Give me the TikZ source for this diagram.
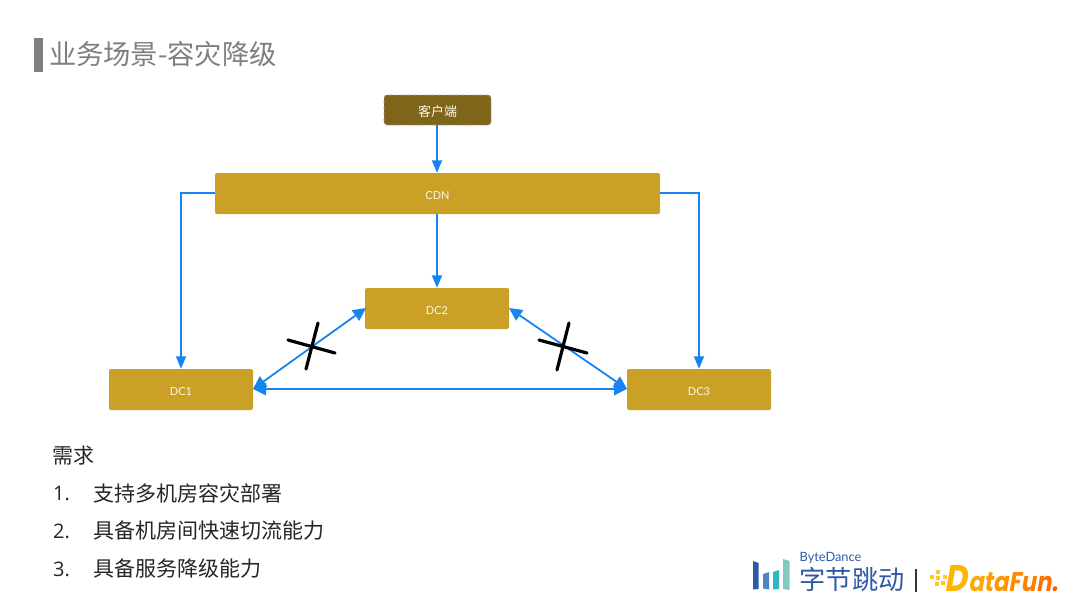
\documentclass[tikz,border=0pt]{standalone}
\usepackage{fontspec}
\setmainfont{Noto Sans CJK SC}
\newfontfamily\latinf{Open Sans}
\newfontfamily\lightf{Lato}
\newfontfamily\dataf[FakeSlant=0.18,FakeStretch=0.84]{Poppins}
\usetikzlibrary{arrows.meta}
\definecolor{gold}{HTML}{CAA026}
\definecolor{darkgold}{HTML}{7F6519}
\definecolor{link}{HTML}{1784F2}
\definecolor{titlegray}{HTML}{7F7F7F}
\definecolor{bdblue}{HTML}{2F5AA8}
\definecolor{bdmid}{HTML}{4A87C8}
\definecolor{bdteal}{HTML}{2EB8C0}
\definecolor{bdpale}{HTML}{84C8C4}
\definecolor{dfdot}{HTML}{FFC81E}
\tikzset{
 box/.style={fill=gold,rounded corners=2pt,text=white!92!gold,font=\fontsize{11}{12}\selectfont\lightf,inner sep=0pt,anchor=center,text height=12.8pt,text depth=0pt},
 clientbox/.style={box,fill=darkgold,draw=black!35,dashed,line width=.8pt,rounded corners=3pt,font=\fontsize{13}{15}\selectfont,text height=12.6pt},
 conn/.style={draw=link,line width=1.8pt,-{Triangle[length=12.5pt,width=10pt]}},
 bidir/.style={draw=link,line width=1.8pt,{Triangle[length=13pt,width=12.5pt]}-{Triangle[length=13pt,width=12.5pt]}},
 crossing/.style={draw=black,line width=3.2pt,line cap=round},
 body/.style={font=\fontsize{21}{25}\selectfont,text=black!85,anchor=west,inner sep=0pt},
 logotext/.style={inner sep=0pt,text=bdblue},
}
\begin{document}
\begin{tikzpicture}[x=1pt,y=-1pt]
\useasboundingbox (0,0) rectangle (1080,608);
\fill[white] (0,0) rectangle (1080,608);
% title
\fill[titlegray] (34,38) rectangle (43,72);
\node[body,text=titlegray,font=\fontsize{27.3}{30}\selectfont] (title) at (48.8,54.3) {业务场景-容灾降级};
% nodes
\node[clientbox,minimum width=107pt,minimum height=30pt] (client) at (437.5,110) {客户端};
\node[box,minimum width=445pt,minimum height=41pt] (cdn) at (437.5,193.5) {CDN};
\node[box,minimum width=144pt,minimum height=41pt] (dc2) at (437,308.5) {DC2};
\node[box,minimum width=144pt,minimum height=41pt] (dc1) at (181,389.5) {DC1};
\node[box,minimum width=144pt,minimum height=41pt] (dc3) at (699,389.5) {DC3};
% connector end points on whole pixels
\coordinate (cdnl) at (215,193);
\coordinate (cdnr) at (660,193);
\coordinate (dc1a) at (253,389);
\coordinate (dc2l) at (366,308);
\coordinate (dc2r) at (509,308);
\coordinate (dc3a) at (627,389);
% connectors
\draw[conn] (client.south -| dc2.north) -- (cdn.north -| dc2.north);
\draw[conn] (cdn.south -| dc2.north) -- (dc2.north);
\draw[conn] (cdnl) -| (dc1.north);
\draw[conn] (cdnr) -| (dc3.north);
\draw[bidir] (dc1a) -- (dc3a);
\draw[bidir] (dc1a) -- (dc2l);
\draw[bidir] (dc2r) -- (dc3a);
% crosses
\draw[crossing] (288,340) -- (335,353);
\draw[crossing] (318,323) -- (306,369);
\draw[crossing] (539,340) -- (587,353);
\draw[crossing] (569,323) -- (557,370);
% text
\node[body] (req) at (52,455.7) {需求};
\node[body,font=\fontsize{20}{25}\selectfont\latinf] (n1) at (53,493) {1.};
\node[body] (t1) at (93,493) {支持多机房容灾部署};
\node[body,font=\fontsize{20}{25}\selectfont\latinf] (n2) at (53,531) {2.};
\node[body] (t2) at (93,531) {具备机房间快速切流能力};
\node[body,font=\fontsize{20}{25}\selectfont\latinf] (n3) at (53,569) {3.};
\node[body] (t3) at (93,569) {具备服务降级能力};
% ByteDance logo
\fill[bdblue] (753,561) -- (758.5,563) -- (758.5,589) -- (753,589.5) -- cycle;
\fill[bdmid] (763,574) -- (769,572) -- (769,589.5) -- (763,588.5) -- cycle;
\fill[bdteal] (773,572) -- (779,570) -- (779,589) -- (773,589.5) -- cycle;
\fill[bdpale] (783,559) -- (789.5,561) -- (789.5,590) -- (783,589) -- cycle;
\node[logotext,font=\fontsize{12.8}{13}\selectfont\lightf] (bd) at (830.5,558) {ByteDance};
\node[logotext,font=\fontsize{26.2}{28}\selectfont,anchor=west] (zj) at (799.5,579.5) {字节跳动};
\fill[black!80] (915,568.5) rectangle (917,592);
% DataFun logo
\foreach \x/\y in {938/572, 932/577, 938/578, 945/577, 937/584, 943/583, 950/582}
  \fill[dfdot] (\x-2,\y-2) rectangle ++(4,4);
\node[inner sep=0pt,anchor=base west,font=\fontsize{37}{38}\selectfont\dataf\bfseries] (df) at (944,591)
  {\textcolor[HTML]{FFB400}{D}\kern1.5pt\fontsize{27}{33}\selectfont\textcolor[HTML]{FFA800}{a}\textcolor[HTML]{FF9E00}{t}\textcolor[HTML]{FF9400}{a}\textcolor[HTML]{FF8A00}{F}\textcolor[HTML]{FF7F00}{u}\textcolor[HTML]{FF7000}{n}\textcolor[HTML]{FF5A00}{.}};
\end{tikzpicture}
\end{document}
